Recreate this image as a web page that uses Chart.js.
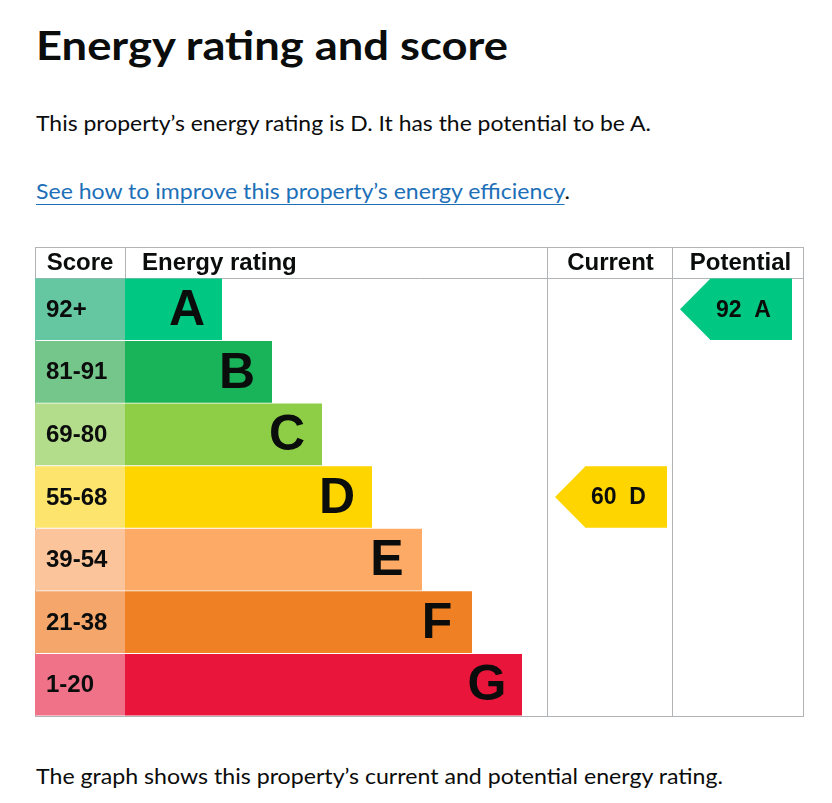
<!DOCTYPE html>
<html lang="en">
<head>
    <meta charset="utf-8">
    <title>Energy rating and score</title>
    <script src="https://cdn.jsdelivr.net/npm/chart.js"></script>
    <style>
        body {
            margin: 0;
            background: #fff;
            color: #0b0c0c;
            font-family: Lato, "Noto Sans", sans-serif;
        }

        .txt {
            position: absolute;
            left: 36px;
            white-space: nowrap;
            line-height: 1;
            transform-origin: 0 0;
        }

        #title { top: 25px; font-size: 40px; font-weight: 700; }
        #intro { top: 112px; font-size: 22px; }
        #more { top: 180px; font-size: 22px; }
        #more a {
            color: #1d70b8;
            text-decoration: underline;
            text-decoration-thickness: 1px;
            text-underline-offset: 5px;
        }
        #note { top: 765px; font-size: 22px; }

        #chartBox {
            position: absolute;
            left: 35px;
            top: 247px;
            width: 769px;
            height: 470px;
        }
    </style>
</head>
<body>

<span class="txt" id="title" data-w="472">Energy rating and score</span>
<span class="txt" id="intro" data-w="615">This property’s energy rating is D. It has the potential to be A.</span>
<span class="txt" id="more" data-w="534"><a href="#">See how to improve this property’s energy efficiency</a>.</span>

<div id="chartBox"><canvas id="epc"></canvas></div>

<span class="txt" id="note" data-w="687">The graph shows this property’s current and potential energy rating.</span>

<script>
    // data
    const ratings = ['A', 'B', 'C', 'D', 'E', 'F', 'G'];
    const scoreBands = ['92+', '81-91', '69-80', '55-68', '39-54', '21-38', '1-20'];
    const barLength = [97, 147, 197, 247, 297, 347, 397];
    const ratingColours = ['#00c781', '#19b459', '#8dce46', '#ffd500', '#fcaa65', '#ef8023', '#e9153b'];
    const bandColours = ['#64c7a1', '#75c68b', '#b3dd8b', '#fde46c', '#fcc49a', '#f4a66b', '#ef7289'];
    const currentScore = 60, currentRating = 'D';
    const potentialScore = 92, potentialRating = 'A';

    // table layout, in x-scale units (one unit = one pixel of the table)
    const TABLE_W = 768;
    const SCORE_COL = 90;
    const CURRENT_COL = [512, 637];
    const POTENTIAL_COL = [637, 768];
    const ARROW = { inset: 8, tip: 30, length: 112 };
    const HEADER_H = 31;
    const LINE = '#b1b4b6';
    const INK = '#0b0c0c';
    const TABLE_FONT = '"Liberation Sans", Arial, sans-serif';

    function arrowData(col, rating) {
        const start = col[0] + ARROW.inset + ARROW.tip;
        const end = col[0] + ARROW.inset + ARROW.length;
        return ratings.map(r => r === rating ? [start, end] : null);
    }

    const epcTable = {
        id: 'epcTable',
        beforeDatasetsDraw(chart) {
            const { ctx, scales: { x } } = chart;
            const px = v => Math.round(x.getPixelForValue(v)) + 0.5;
            ctx.save();
            ctx.strokeStyle = LINE;
            ctx.lineWidth = 1;
            ctx.strokeRect(0.5, 0.5, px(TABLE_W) - 0.5, chart.height - 1);
            ctx.beginPath();
            ctx.moveTo(0, HEADER_H + 0.5); ctx.lineTo(px(TABLE_W), HEADER_H + 0.5);
            ctx.moveTo(px(SCORE_COL), 0); ctx.lineTo(px(SCORE_COL), HEADER_H);
            ctx.moveTo(px(CURRENT_COL[0]), 0); ctx.lineTo(px(CURRENT_COL[0]), chart.height);
            ctx.moveTo(px(POTENTIAL_COL[0]), 0); ctx.lineTo(px(POTENTIAL_COL[0]), chart.height);
            ctx.stroke();

            // header row
            ctx.fillStyle = INK;
            ctx.font = 'bold 24px ' + TABLE_FONT;
            ctx.textBaseline = 'middle';
            const hy = HEADER_H / 2 + 1;
            ctx.textAlign = 'center';
            ctx.fillText('Score', x.getPixelForValue(SCORE_COL / 2), hy);
            ctx.fillText('Current', x.getPixelForValue((CURRENT_COL[0] + CURRENT_COL[1]) / 2) + 1, hy);
            ctx.fillText('Potential', x.getPixelForValue((POTENTIAL_COL[0] + POTENTIAL_COL[1]) / 2) + 3, hy);
            ctx.textAlign = 'left';
            ctx.fillText('Energy rating', x.getPixelForValue(SCORE_COL) + 17, hy);
            ctx.restore();
        },
        afterDatasetsDraw(chart) {
            const { ctx, scales: { x, y } } = chart;
            ctx.save();
            ctx.fillStyle = INK;
            ctx.textBaseline = 'middle';

            ratings.forEach((r, i) => {
                const cy = y.getPixelForValue(i) + 1;
                ctx.textAlign = 'left';
                ctx.font = 'bold 24px ' + TABLE_FONT;
                ctx.fillText(scoreBands[i], 11, cy);
                ctx.textAlign = 'center';
                ctx.font = 'bold 50px ' + TABLE_FONT;
                ctx.fillText(r, x.getPixelForValue(SCORE_COL + barLength[i]) - 35, cy + 1);
            });

            // arrow heads and labels for current / potential
            [[2, currentScore], [3, potentialScore]].forEach(([di, score]) => {
                const ds = chart.data.datasets[di];
                chart.getDatasetMeta(di).data.forEach((el, i) => {
                    if (!ds.data[i]) return;
                    const { y: ye, base, height } = el.getProps(['y', 'base', 'height'], true);
                    const tipX = x.getPixelForValue(ds.data[i][0] - ARROW.tip);
                    ctx.fillStyle = ds.backgroundColor;
                    ctx.beginPath();
                    ctx.moveTo(base + 0.5, ye - height / 2);
                    ctx.lineTo(tipX, ye);
                    ctx.lineTo(base + 0.5, ye + height / 2);
                    ctx.closePath();
                    ctx.fill();
                    ctx.fillStyle = INK;
                    ctx.textAlign = 'left';
                    ctx.font = 'bold 23px ' + TABLE_FONT;
                    ctx.fillText(score + '  ' + ratings[i], base + 6, ye + 1);
                });
            });
            ctx.restore();
        }
    };

    new Chart(document.getElementById('epc'), {
        type: 'bar',
        data: {
            labels: ratings,
            datasets: [{
                label: 'Score',
                data: ratings.map(() => [0, SCORE_COL]),
                backgroundColor: bandColours
            }, {
                label: 'Energy rating',
                data: barLength.map(len => [SCORE_COL, SCORE_COL + len]),
                backgroundColor: ratingColours
            }, {
                label: 'Current',
                data: arrowData(CURRENT_COL, currentRating),
                backgroundColor: ratingColours[ratings.indexOf(currentRating)]
            }, {
                label: 'Potential',
                data: arrowData(POTENTIAL_COL, potentialRating),
                backgroundColor: ratingColours[ratings.indexOf(potentialRating)]
            }]
        },
        options: {
            indexAxis: 'y',
            responsive: true,
            maintainAspectRatio: false,
            animation: false,
            layout: { padding: { top: HEADER_H, left: 0, right: 1, bottom: 1 } },
            datasets: {
                bar: { grouped: false, barPercentage: 0.985, categoryPercentage: 1, borderWidth: 0 }
            },
            scales: {
                x: { type: 'linear', min: 0, max: TABLE_W, display: false },
                y: { display: false }
            },
            plugins: {
                legend: { display: false },
                tooltip: { enabled: false }
            }
        },
        plugins: [epcTable]
    });

    // squeeze page text to the widths in the picture
    document.fonts.ready.then(() => {
        document.querySelectorAll('.txt').forEach(el => {
            const w = el.getBoundingClientRect().width;
            el.style.transform = 'scaleX(' + (el.dataset.w / w) + ')';
        });
    });
</script>
</body>
</html>
